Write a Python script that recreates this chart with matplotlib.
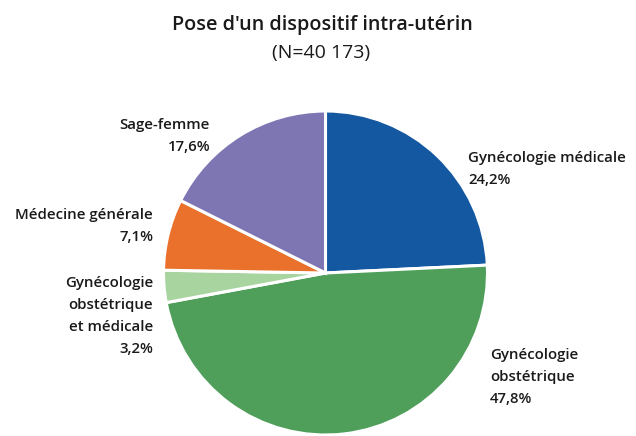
import matplotlib
matplotlib.use("Agg")
from matplotlib import pyplot as plt

# data
categories = ["Gynécologie médicale", "Gynécologie obstétrique",
              "Gynécologie obstétrique et médicale", "Médecine générale", "Sage-femme"]
shares = [24.2, 47.8, 3.2, 7.1, 17.6]
share_labels = ["24,2%", "47,8%", "3,2%", "7,1%", "17,6%"]
label_text = ["Gynécologie médicale", "Gynécologie\nobstétrique",
              "Gynécologie\nobstétrique\net médicale", "Médecine générale", "Sage-femme"]
colors = ["#1558a2", "#4f9f5b", "#a8d4a0", "#e9712b", "#7e76b3"]

W, H = 636, 436
plt.rcParams['font.family'] = ['Open Sans', 'DejaVu Sans']

fig = plt.figure(figsize=(W / 100, H / 100), dpi=100)
ax = fig.add_axes([0, 0, 1, 1])

cx, cy, r = 325.5, 273, 162
ax.pie(shares, colors=colors, startangle=-90, counterclock=True,
       center=(cx, cy), radius=r, frame=True,
       wedgeprops=dict(edgecolor='white', linewidth=2.2))
ax.set_xlim(0, W)
ax.set_ylim(H, 0)
ax.set_aspect('equal')
ax.axis('off')

txt = '#1a1a1a'
# label anchors (pixel coordinates), align
pos = [(468, 158, 'left'), (490, 355, 'left'), (153, 283, 'right'),
       (153, 215, 'right'), (210, 125, 'right')]
line_h = 22
for (x, y, ha), lab, pct in zip(pos, label_text, share_labels):
    lines = lab.split("\n") + [pct]
    for i, s in enumerate(lines):
        ax.text(x, y + i * line_h, s, ha=ha, va='center', fontsize=10.8,
                fontweight='semibold', color=txt)

ax.text(322, 25, "Pose d'un dispositif intra-utérin", ha='center', va='center',
        fontsize=14.2, fontweight='semibold', color=txt)
ax.text(321, 53, "(N=40 173)", ha='center', va='center', fontsize=14, color=txt)

fig.savefig("out.png", dpi=100)
